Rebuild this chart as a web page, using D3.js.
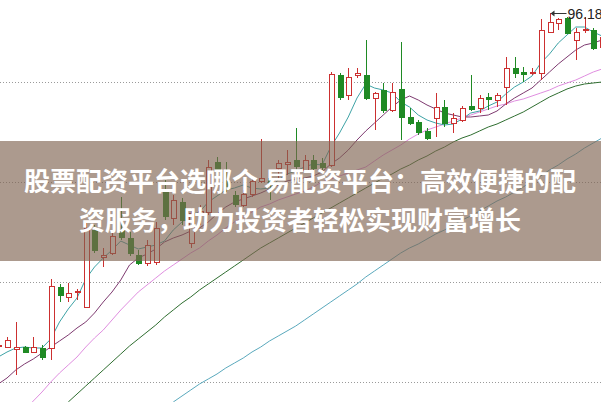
<!DOCTYPE html>
<html><head><meta charset="utf-8">
<script src="https://cdn.jsdelivr.net/npm/d3@7/dist/d3.min.js"></script>
<style>html,body{margin:0;padding:0;background:#fff;overflow:hidden}</style>
</head><body><div id="chart"></div>
<script>
// ---- data (price units) ----
const opens  = [63.6,63.5,63.3,63.5,63.0,63.4,63.4,69.5,68.5,69.0, 67.5,75.2,72.5,72.9,75.2,74.4,72.7,71.9,72.0,79.0, 76.4,78.0,73.9,76.9,77.0,82.0,80.1,78.7,77.7,78.8, 80.1,80.4,81.4,81.8,82.2,81.2,82.2,81.9,81.7,90.7, 88.7,90.7,90.7,88.4,89.2,87.2,89.3,86.5,86.0,85.1, 86.4,87.5,85.9,86.2,87.6,87.4,88.5,88.2,89.5,91.4, 91.0,90.9,90.9,95.0,95.9,96.4,94.2,95.2,95.2,93.5];
const highs  = [63.9,64.5,66.0,63.6,64.5,63.7,70.3,69.8,69.9,69.3, 76.0,75.7,73.4,75.0,78.5,75.0,73.2,74.2,76.0,80.2, 78.7,78.4,77.4,77.7,82.2,82.5,82.0,79.1,79.2,80.5, 84.3,80.6,82.2,83.2,85.4,82.7,82.7,82.4,91.0,90.9, 91.4,91.4,94.2,89.0,89.9,89.9,94.0,87.4,86.2,85.4, 88.9,88.2,86.9,87.6,90.7,88.7,88.9,88.9,92.5,92.5, 91.5,91.4,96.3,96.9,96.4,96.5,95.4,96.5,95.4,94.9];
const lows   = [63.3,63.4,60.7,62.9,62.9,62.2,62.2,68.0,68.0,68.2, 67.4,72.9,71.5,72.7,74.2,72.6,71.7,71.6,71.7,76.2, 75.7,75.7,73.4,75.7,76.7,80.7,79.0,77.5,77.5,78.5, 79.9,78.2,80.4,80.7,81.2,81.0,81.0,81.2,81.5,88.2, 88.2,90.4,88.2,85.2,86.9,87.0,84.2,85.7,84.7,84.2, 84.5,85.5,84.9,86.0,87.1,86.9,87.2,87.5,87.7,90.4, 90.0,90.7,90.2,94.9,95.2,94.8,92.2,94.9,93.2,93.2];
const closes = [63.7,64.2,63.5,63.0,63.5,62.5,69.6,68.7,68.9,69.1, 75.4,73.2,72.7,74.6,74.5,72.9,71.9,73.7,75.4,76.6, 78.2,76.2,76.9,77.1,81.5,81.2,79.3,77.8,78.8,80.1, 80.4,79.8,81.9,82.0,81.6,82.2,81.4,81.5,90.8,88.5, 90.5,90.9,88.4,88.9,87.2,89.0,86.5,85.9,85.0,84.4, 87.5,85.9,86.4,87.4,87.3,88.4,88.3,88.7,91.4,90.9, 90.8,91.0,95.2,96.0,96.3,94.9,95.0,95.3,93.4,94.5];

const ma5  = [62.5,63.0,63.4,63.5,63.4,63.4,64.3,66.0,67.3,68.4, 70.3,71.5,72.4,73.2,74.1,73.7,73.3,73.5,73.7,74.1, 75.2,76.0,76.7,77.0,78.0,78.6,79.2,79.4,79.7,79.4, 79.3,79.4,80.2,80.8,81.1,81.5,81.8,81.7,83.5,84.9, 86.5,88.4,89.8,89.4,89.2,88.9,88.0,87.5,86.7,86.2, 85.9,85.7,85.8,86.3,86.9,87.1,87.6,88.0,88.8,89.5, 90.0,90.6,91.9,92.8,93.9,94.7,95.5,95.5,95.0,94.6];
const ma10 = [59.8,60.4,61.2,61.8,62.3,62.9,63.5,64.1,64.7,65.4, 66.0,66.9,68.0,69.0,70.2,71.7,72.4,72.8,73.3,74.0, 74.4,74.7,75.1,75.4,76.0,76.8,77.5,78.0,78.3,78.6, 78.9,79.3,79.7,80.1,80.3,80.4,80.6,81.0,81.8,82.4, 83.2,84.2,85.1,85.9,86.7,87.5,88.2,88.6,88.2,87.7, 87.3,86.9,86.7,86.5,86.5,86.6,86.7,87.1,87.8,88.4, 88.9,89.4,90.2,91.0,91.8,92.5,93.2,93.7,93.9,94.2];
const ma20 = [null,null,null,57.2,58.1,59.0,60.0,60.9,61.7,62.5, 63.5,64.4,65.2,66.2,67.2,68.1,69.0,69.7,70.4,71.1, 71.7,72.3,72.9,73.4,74.1,74.7,75.4,76.0,76.5,77.0, 77.5,77.8,78.2,78.5,78.8,79.1,79.5,80.0,80.3,80.6, 80.9,81.2,81.5,82.1,82.7,83.2,83.7,84.3,84.8,85.2, 85.5,85.8,86.1,86.4,86.7,87.0,87.3,87.6,87.8,88.1, 88.3,88.6,88.9,89.2,89.6,89.9,90.2,90.6,91.0,91.3];
const ma60 = [null,null,null,null,null,null,null,null,58.0,58.8, 59.6,60.4,61.2,62.0,62.8,63.6,64.3,65.0,65.7,66.5, 67.2,67.9,68.5,69.2,69.8,70.4,71.0,71.6,72.2,72.8, 73.4,73.9,74.4,74.9,75.4,75.9,76.4,76.9,77.4,77.9, 78.4,78.9,79.4,79.9,80.4,80.8,81.3,81.7,82.2,82.6, 83.1,83.5,84.0,84.4,84.7,85.1,85.5,85.8,86.2,86.6, 87.0,87.5,88.0,88.5,88.9,89.3,89.6,89.8,89.9,90.0];
const ma120= [null,null,null,null,null,null,null,null,null,null, null,null,null,null,null,null,null,null,null,null, 58.0,58.6,59.2,59.8,60.3,60.8,61.4,61.9,62.4,63.0, 63.5,64.1,64.6,65.1,65.6,66.2,66.8,67.4,68.0,68.6, 69.2,69.8,70.5,71.1,71.7,72.3,72.9,73.4,73.8,74.3, 74.8,75.2,75.7,76.2,76.6,77.1,77.6,78.1,78.5,79.0, 79.5,80.1,80.6,81.2,81.7,82.3,82.8,83.4,83.9,84.4];

const gridValues = [90, 80, 70, 60];
const highLabel = "96.18";
const titleLines = ["股票配资平台选哪个 易配资平台：高效便捷的配", "资服务，助力投资者轻松实现财富增长"];

// ---- drawing ----
const W = 601, H = 402;
const svg = d3.select("#chart").append("svg").attr("width", W).attr("height", H)
  .style("display","block").style("font-family","Arial, 'Liberation Sans', sans-serif");

const n = closes.length;
const x = d3.scaleLinear().domain([0, n - 1]).range([-1.75, -1.75 + 8.75 * (n - 1)]);
const y = d3.scaleLinear().domain([58, 98.2]).range([H, 0]);

const RED = "#cc3030", GREEN = "#1f8a24";

// grid
svg.append("g").selectAll("line").data(gridValues).join("line")
  .attr("x1", 0).attr("x2", W)
  .attr("y1", d => Math.round(y(d)) + 0.5).attr("y2", d => Math.round(y(d)) + 0.5)
  .attr("stroke", "#9a9a9a").attr("stroke-width", 1).attr("stroke-dasharray", "1,2");

// moving averages
const lineGen = d3.line().defined(d => d[1] != null).x(d => x(d[0])).y(d => y(d[1]));
const maDefs = [
  {data: ma120, color: "#5aa9bd"},
  {data: ma60,  color: "#2f6e30"},
  {data: ma20,  color: "#e08ee0"},
  {data: ma10,  color: "#7e3a70"},
  {data: ma5,   color: "#3ea3a6"}
];
svg.append("g").selectAll("path").data(maDefs).join("path")
  .attr("d", m => lineGen(m.data.map((v, i) => [i, v])))
  .attr("fill", "none").attr("stroke", m => m.color).attr("stroke-width", 1);

// candles
const idx = d3.range(n);
const cg = svg.append("g").attr("shape-rendering", "crispEdges");
const cx = i => Math.round(x(i)) + 0.5;
const col = i => closes[i] >= opens[i] ? RED : GREEN;
cg.selectAll("line.wick").data(idx).join("line").attr("class", "wick")
  .attr("x1", cx).attr("x2", cx)
  .attr("y1", i => y(highs[i])).attr("y2", i => y(lows[i]))
  .attr("stroke", col).attr("stroke-width", 1);
cg.selectAll("rect.body").data(idx).join("rect").attr("class", "body")
  .attr("x", i => cx(i) - 2.5).attr("width", 5)
  .attr("y", i => Math.round(y(Math.max(opens[i], closes[i]))) + 0.5)
  .attr("height", i => Math.max(0.01, Math.round(Math.abs(y(opens[i]) - y(closes[i])))))
  .attr("fill", i => closes[i] >= opens[i] ? "#fff" : GREEN)
  .attr("stroke", col).attr("stroke-width", 1);

// high annotation
const hi = d3.maxIndex(highs);
const hx = cx(hi), hy = Math.round(y(highs[hi])) + 0.5;
const ag = svg.append("g");
ag.append("line").attr("x1", hx + 1).attr("x2", hx + 16).attr("y1", hy).attr("y2", hy)
  .attr("stroke", "#333").attr("stroke-width", 1);
ag.append("path").attr("d", `M${hx},${hy} l4,-3 l0,6 z`).attr("fill", "#333");
ag.append("text").attr("x", hx + 17).attr("y", hy + 5).attr("font-size", 14)
  .attr("fill", "#222").text(highLabel);

// banner overlay
svg.append("rect").attr("x", 0).attr("y", 141).attr("width", W).attr("height", 120)
  .attr("fill", "rgb(128,100,82)").attr("fill-opacity", 0.65);
svg.append("g").selectAll("text").data(titleLines).join("text")
  .attr("x", 300).attr("y", (d, i) => 191 + i * 39)
  .attr("text-anchor", "middle").attr("fill", "#fff")
  .attr("font-family", "'Noto Sans CJK SC', sans-serif").attr("font-weight", "bold")
  .attr("font-size", 26).text(d => d);
</script></body></html>
